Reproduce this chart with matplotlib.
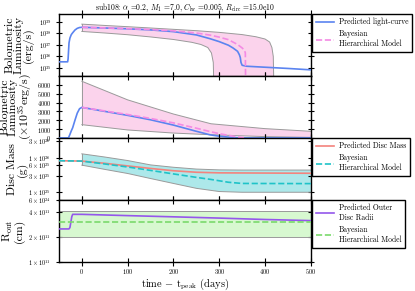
import numpy as np
import matplotlib
matplotlib.use('Agg')
from matplotlib import pyplot as plt

plt.rcParams['font.family'] = 'serif'
plt.rcParams['font.serif'] = ['cmr10']
plt.rcParams['mathtext.fontset'] = 'cm'
plt.rcParams['axes.formatter.use_mathtext'] = True

# light curve (units of 1e35 erg/s)
t_lc = [-50, -31, -30, -29, -28, -26, -23, -20, -15, -10, -5, 0, 50, 100, 150, 200, 250, 280,
        300, 320, 330, 340, 344, 346, 347.5, 350, 360, 400, 450, 500]
L_lc = [3.4, 3.4, 6, 30, 150, 400, 800, 1150, 2000, 2800, 3300, 3450, 3000, 2550, 2050, 1450, 750, 350,
        195, 95, 55, 28, 14, 8, 3, 1.7, 1.4, 1.15, 0.9, 0.68]
t_bhm = [0, 50, 100, 150, 200, 250, 280, 300, 320, 340, 350, 355, 357, 358]
L_bhm = [3450, 3050, 2650, 2200, 1700, 1100, 720, 480, 290, 110, 55, 35, 20, 0.001]

# band in the log panel
t_b1_hi = [0, 50, 100, 150, 200, 250, 300, 350, 380, 400, 410, 415, 418, 420]
L_b1_hi = [6500, 5000, 3900, 3000, 2300, 1750, 1250, 800, 520, 330, 180, 60, 10, 0.001]
t_b1_lo = [0, 50, 100, 150, 200, 240, 260, 275, 283, 287, 289]
L_b1_lo = [1500, 1100, 780, 500, 300, 170, 110, 60, 20, 3, 0.001]

# band in the linear panel
t_b2 = [0, 100, 200, 282, 400, 500]
L_b2_hi = [6400, 4300, 2700, 1600, 1050, 750]
L_b2_lo = [1500, 900, 550, 360, 150, 60]

# disc mass (g)
t_md = [-50, 0, 50, 100, 150, 200, 250, 300, 400, 500]
M_disc = [8.2e25, 8.0e25, 6.9e25, 5.8e25, 4.9e25, 4.2e25, 3.8e25, 3.65e25, 3.6e25, 3.55e25]
t_md_bhm = [-50, 0, 50, 100, 150, 200, 250, 282, 320, 350, 500]
M_bhm = [8.2e25, 8.0e25, 6.6e25, 5.4e25, 4.3e25, 3.4e25, 2.7e25, 2.35e25, 1.95e25, 1.8e25, 1.78e25]
t_mb = [0, 50, 100, 150, 200, 250, 300, 350, 400, 500]
M_hi = [1.3e26, 1.05e26, 8.3e25, 6.2e25, 5.3e25, 4.7e25, 4.45e25, 4.4e25, 4.4e25, 4.4e25]
M_lo = [6.1e25, 4.6e25, 3.5e25, 2.5e25, 1.8e25, 1.3e25, 1.05e25, 1.0e25, 1.0e25, 1.0e25]

# outer disc radius (cm)
t_r = [-50, -28, -26, -24, -22, -20, 0, 100, 200, 300, 400, 500]
R_out = [2.5e11, 2.5e11, 2.6e11, 3.0e11, 3.5e11, 3.75e11, 3.75e11, 3.62e11, 3.5e11, 3.38e11, 3.25e11, 3.15e11]
t_rb = [-50, 500]
R_bhm = [3.05e11, 3.05e11]
R_hi = [4.1e11, 4.1e11]
R_lo = [2.0e11, 2.0e11]

c_blue = '#5b84f0'
c_pink = '#f48ae4'
band_edge = '#9a9a9a'
lab_kw = dict(fontsize=8.5, linespacing=0.85)

fig, axes = plt.subplots(4, 1, figsize=(4.15, 2.91), dpi=100, sharex=True)
fig.subplots_adjust(left=0.142, right=0.749, top=0.952, bottom=0.1, hspace=0)
ax1, ax2, ax3, ax4 = axes


def band(ax, t_hi, hi, t_lo, lo, fc):
    ax.fill(np.concatenate([t_hi, t_lo[::-1]]), np.concatenate([hi, lo[::-1]]), color=fc, lw=0, zorder=1)
    ax.plot(t_hi, hi, c=band_edge, lw=0.7, zorder=2)
    ax.plot(t_lo, lo, c=band_edge, lw=0.7, zorder=2)
    ax.plot([t_hi[0], t_lo[0]], [hi[0], lo[0]], c=band_edge, lw=0.7, zorder=2)


# panel 1
s = 1e35
band(ax1, np.array(t_b1_hi), np.array(L_b1_hi) * s, np.array(t_b1_lo), np.array(L_b1_lo) * s, '#fbd3ec')
ax1.plot(t_lc, np.array(L_lc) * s, c=c_blue, lw=1.2, zorder=3, label='Predicted light-curve')
ax1.plot(t_bhm, np.array(L_bhm) * s, c=c_pink, lw=1.2, ls='--', zorder=4, label='Bayesian\nHierarchical Model')
ax1.set_yscale('log')
ax1.set_ylim(2e34, 5e39)
ax1.set_yticks([1e35, 1e36, 1e37, 1e38, 1e39])
ax1.set_ylabel('Bolometric\nLuminosity\n(erg/s)', **lab_kw)

# panel 2
band(ax2, np.array(t_b2), np.array(L_b2_hi), np.array(t_b2), np.array(L_b2_lo), '#fbd3ec')
ax2.plot(t_lc, L_lc, c=c_blue, lw=1.2, zorder=3)
ax2.plot(t_bhm, L_bhm, c=c_pink, lw=1.2, ls='--', zorder=4)
ax2.set_ylim(0, 7000)
ax2.set_yticks(range(0, 7000, 1000))
ax2.set_ylabel('Bolometric\nLuminosity\n($\\times 10^{35}$erg/s)', **lab_kw)

# panel 3
band(ax3, np.array(t_mb), np.array(M_hi), np.array(t_mb), np.array(M_lo), '#ade8ea')
ax3.plot(t_md, M_disc, c='#f4837d', lw=1.2, zorder=3, label='Predicted Disc Mass')
ax3.plot(t_md_bhm, M_bhm, c='#1fc3c8', lw=1.2, ls='--', zorder=4, label='Bayesian\nHierarchical Model')
ax3.set_yscale('log')
ax3.set_ylim(6e24, 3.75e26)
m_ticks = [6e24, 1e25, 3e25, 6e25, 1e26, 3e26]
m_labels = ['$6\\times10^{24}$', '$1\\times10^{25}$', '$3\\times10^{25}$', '$6\\times10^{25}$',
            '$1\\times10^{26}$', '$3\\times10^{26}$']
ax3.set_yticks(m_ticks)
ax3.set_yticklabels(m_labels)
ax3.minorticks_off()
ax3.set_ylabel('Disc Mass\n(g)', **lab_kw)

# panel 4
band(ax4, np.array(t_rb), np.array(R_hi), np.array(t_rb), np.array(R_lo), '#d7f8d0')
ax4.plot(t_r, R_out, c='#9457eb', lw=1.2, zorder=3, label='Predicted Outer\nDisc Radii')
ax4.plot(t_rb, R_bhm, c='#7ad96c', lw=1.2, ls='--', zorder=4, label='Bayesian\nHierarchical Model')
ax4.set_yscale('log')
ax4.set_ylim(1e11, 5.6e11)
ax4.set_yticks([1e11, 2e11, 4e11])
ax4.set_yticklabels(['$1\\times10^{11}$', '$2\\times10^{11}$', '$4\\times10^{11}$'])
ax4.minorticks_off()
ax4.set_ylabel('$\\mathrm{R_{out}}$\n(cm)', **lab_kw)

ax4.set_xlim(-50, 500)
ax4.set_xticks([0, 100, 200, 300, 400, 500])
ax4.set_xlabel('time $-$ $\\mathrm{t_{peak}}$ (days)', fontsize=7.5, labelpad=0)

for ax in axes:
    for sp in ax.spines.values():
        sp.set_linewidth(1.0)
    ax.tick_params(axis='x', which='both', direction='inout', top=True, length=6, width=0.8,
                   labelsize=4.5, pad=1)
    ax.tick_params(axis='y', which='major', direction='inout', right=True, length=4, width=0.8, labelsize=4.5)
    ax.tick_params(axis='y', which='minor', direction='inout', right=True, length=2, width=0.5)

ax1.yaxis.set_label_coords(-0.1, 0.5)
ax2.yaxis.set_label_coords(-0.1, 0.5)
ax3.yaxis.set_label_coords(-0.125, 0.5)
ax4.yaxis.set_label_coords(-0.135, 0.5)

for ax in [ax1, ax3, ax4]:
    ax.legend(loc='upper left', bbox_to_anchor=(1.005, 1.0), borderaxespad=0, fontsize=5.5,
              fancybox=False, edgecolor='k', framealpha=1, handlelength=2.4, borderpad=0.5,
              handletextpad=0.6)

fig.suptitle('sub108: $\\alpha$ =0.2, $M_1$ =7.0, $C_{\\rm lw}$ =0.005, $R_{\\rm circ}$ =15.0e10',
             fontsize=5.5, x=0.445, y=0.995)

plt.savefig('out.png', dpi=100)
